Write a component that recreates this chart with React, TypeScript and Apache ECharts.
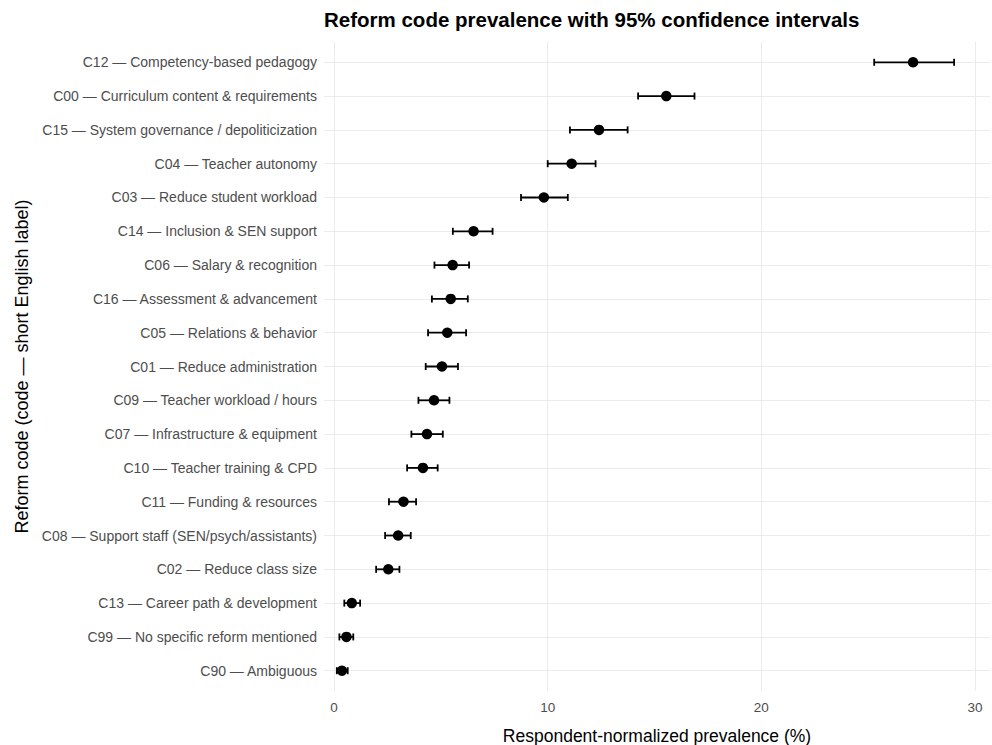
import React, { useEffect, useRef } from "react";
import * as echarts from "echarts";

const categories: string[] = [
  "C12 — Competency-based pedagogy",
  "C00 — Curriculum content & requirements",
  "C15 — System governance / depoliticization",
  "C04 — Teacher autonomy",
  "C03 — Reduce student workload",
  "C14 — Inclusion & SEN support",
  "C06 — Salary & recognition",
  "C16 — Assessment & advancement",
  "C05 — Relations & behavior",
  "C01 — Reduce administration",
  "C09 — Teacher workload / hours",
  "C07 — Infrastructure & equipment",
  "C10 — Teacher training & CPD",
  "C11 — Funding & resources",
  "C08 — Support staff (SEN/psych/assistants)",
  "C02 — Reduce class size",
  "C13 — Career path & development",
  "C99 — No specific reform mentioned",
  "C90 — Ambiguous",
];

const estimates: number[] = [
  27.1, 15.55, 12.4, 11.12, 9.82, 6.53, 5.55, 5.46, 5.3, 5.05, 4.68, 4.35,
  4.16, 3.25, 3.0, 2.54, 0.83, 0.58, 0.37,
];
const lower: number[] = [
  25.28, 14.23, 11.04, 10.0, 8.75, 5.56, 4.7, 4.58, 4.4, 4.29, 3.95, 3.62,
  3.42, 2.57, 2.39, 1.97, 0.48, 0.25, 0.13,
];
const upper: number[] = [
  29.02, 16.87, 13.74, 12.24, 10.94, 7.42, 6.32, 6.26, 6.18, 5.8, 5.4, 5.09,
  4.85, 3.84, 3.59, 3.06, 1.22, 0.9, 0.64,
];
const xTicks: number[] = [0, 10, 20, 30];

const FONT = "Liberation Sans, Arial, sans-serif";

export default function App() {
  const ref = useRef<HTMLDivElement>(null);
  useEffect(() => {
    document.body.style.margin = "0";
    if (!ref.current) return;
    const chart = echarts.init(ref.current, null, { renderer: "svg" });
    const idx = categories.map((_, i) => i);
    const errData = categories.map((_, i) => [i, lower[i], upper[i]]);
    const ptData = categories.map((_, i) => [estimates[i], i]);
    chart.setOption({
      animation: false,
      backgroundColor: "#ffffff",
      textStyle: { fontFamily: FONT },
      title: {
        text: "Reform code prevalence with 95% confidence intervals",
        left: 319,
        top: 4,
        textStyle: {
          fontFamily: FONT,
          fontSize: 20.5,
          fontWeight: "bold",
          color: "#000000",
        },
      },
      grid: {
        left: 324,
        right: 2,
        top: 42,
        bottom: 54,
        containLabel: false,
        outerBoundsMode: "none",
      },
      xAxis: {
        type: "value",
        min: -0.47,
        max: 30.7,
        name: "Respondent-normalized prevalence (%)",
        nameLocation: "middle",
        nameGap: 36,
        nameTextStyle: { fontFamily: FONT, fontSize: 17.5, color: "#000000" },
        axisLine: { show: false },
        axisTick: { show: false, customValues: xTicks },
        axisLabel: {
          customValues: xTicks,
          color: "#4d4d4d",
          fontSize: 13.5,
          margin: 9,
          fontFamily: FONT,
        },
        splitLine: { show: true, lineStyle: { color: "#ebebeb", width: 1 } },
      },
      yAxis: {
        type: "value",
        inverse: true,
        min: -0.6,
        max: 18.6,
        name: "Reform code (code — short English label)",
        nameLocation: "middle",
        nameGap: 282,
        nameRotate: 90,
        nameTextStyle: { fontFamily: FONT, fontSize: 18, color: "#000000" },
        axisLine: { show: false },
        axisTick: { show: false, customValues: idx },
        axisLabel: {
          customValues: idx,
          color: "#4d4d4d",
          fontSize: 14,
          margin: 7,
          fontFamily: FONT,
          formatter: (v: number) => categories[Math.round(v)] ?? "",
        },
        splitLine: { show: true, lineStyle: { color: "#ebebeb", width: 1 } },
      },
      series: [
        {
          type: "custom",
          data: errData,
          encode: { x: [1, 2], y: 0 },
          renderItem: (params: any, api: any) => {
            const y = api.value(0);
            const lo = api.coord([api.value(1), y]);
            const hi = api.coord([api.value(2), y]);
            const h = 3.5;
            const style = { stroke: "#000000", lineWidth: 1.8 };
            return {
              type: "group",
              children: [
                {
                  type: "line",
                  shape: { x1: lo[0], y1: lo[1], x2: hi[0], y2: hi[1] },
                  style,
                },
                {
                  type: "line",
                  shape: { x1: lo[0], y1: lo[1] - h, x2: lo[0], y2: lo[1] + h },
                  style,
                },
                {
                  type: "line",
                  shape: { x1: hi[0], y1: hi[1] - h, x2: hi[0], y2: hi[1] + h },
                  style,
                },
              ],
            };
          },
          z: 2,
        },
        {
          type: "scatter",
          data: ptData,
          symbol: "circle",
          symbolSize: 10.5,
          itemStyle: { color: "#000000", opacity: 1 },
          z: 3,
        },
      ],
    });
    return () => chart.dispose();
  }, []);
  return <div ref={ref} style={{ width: 992, height: 745 }} />;
}
